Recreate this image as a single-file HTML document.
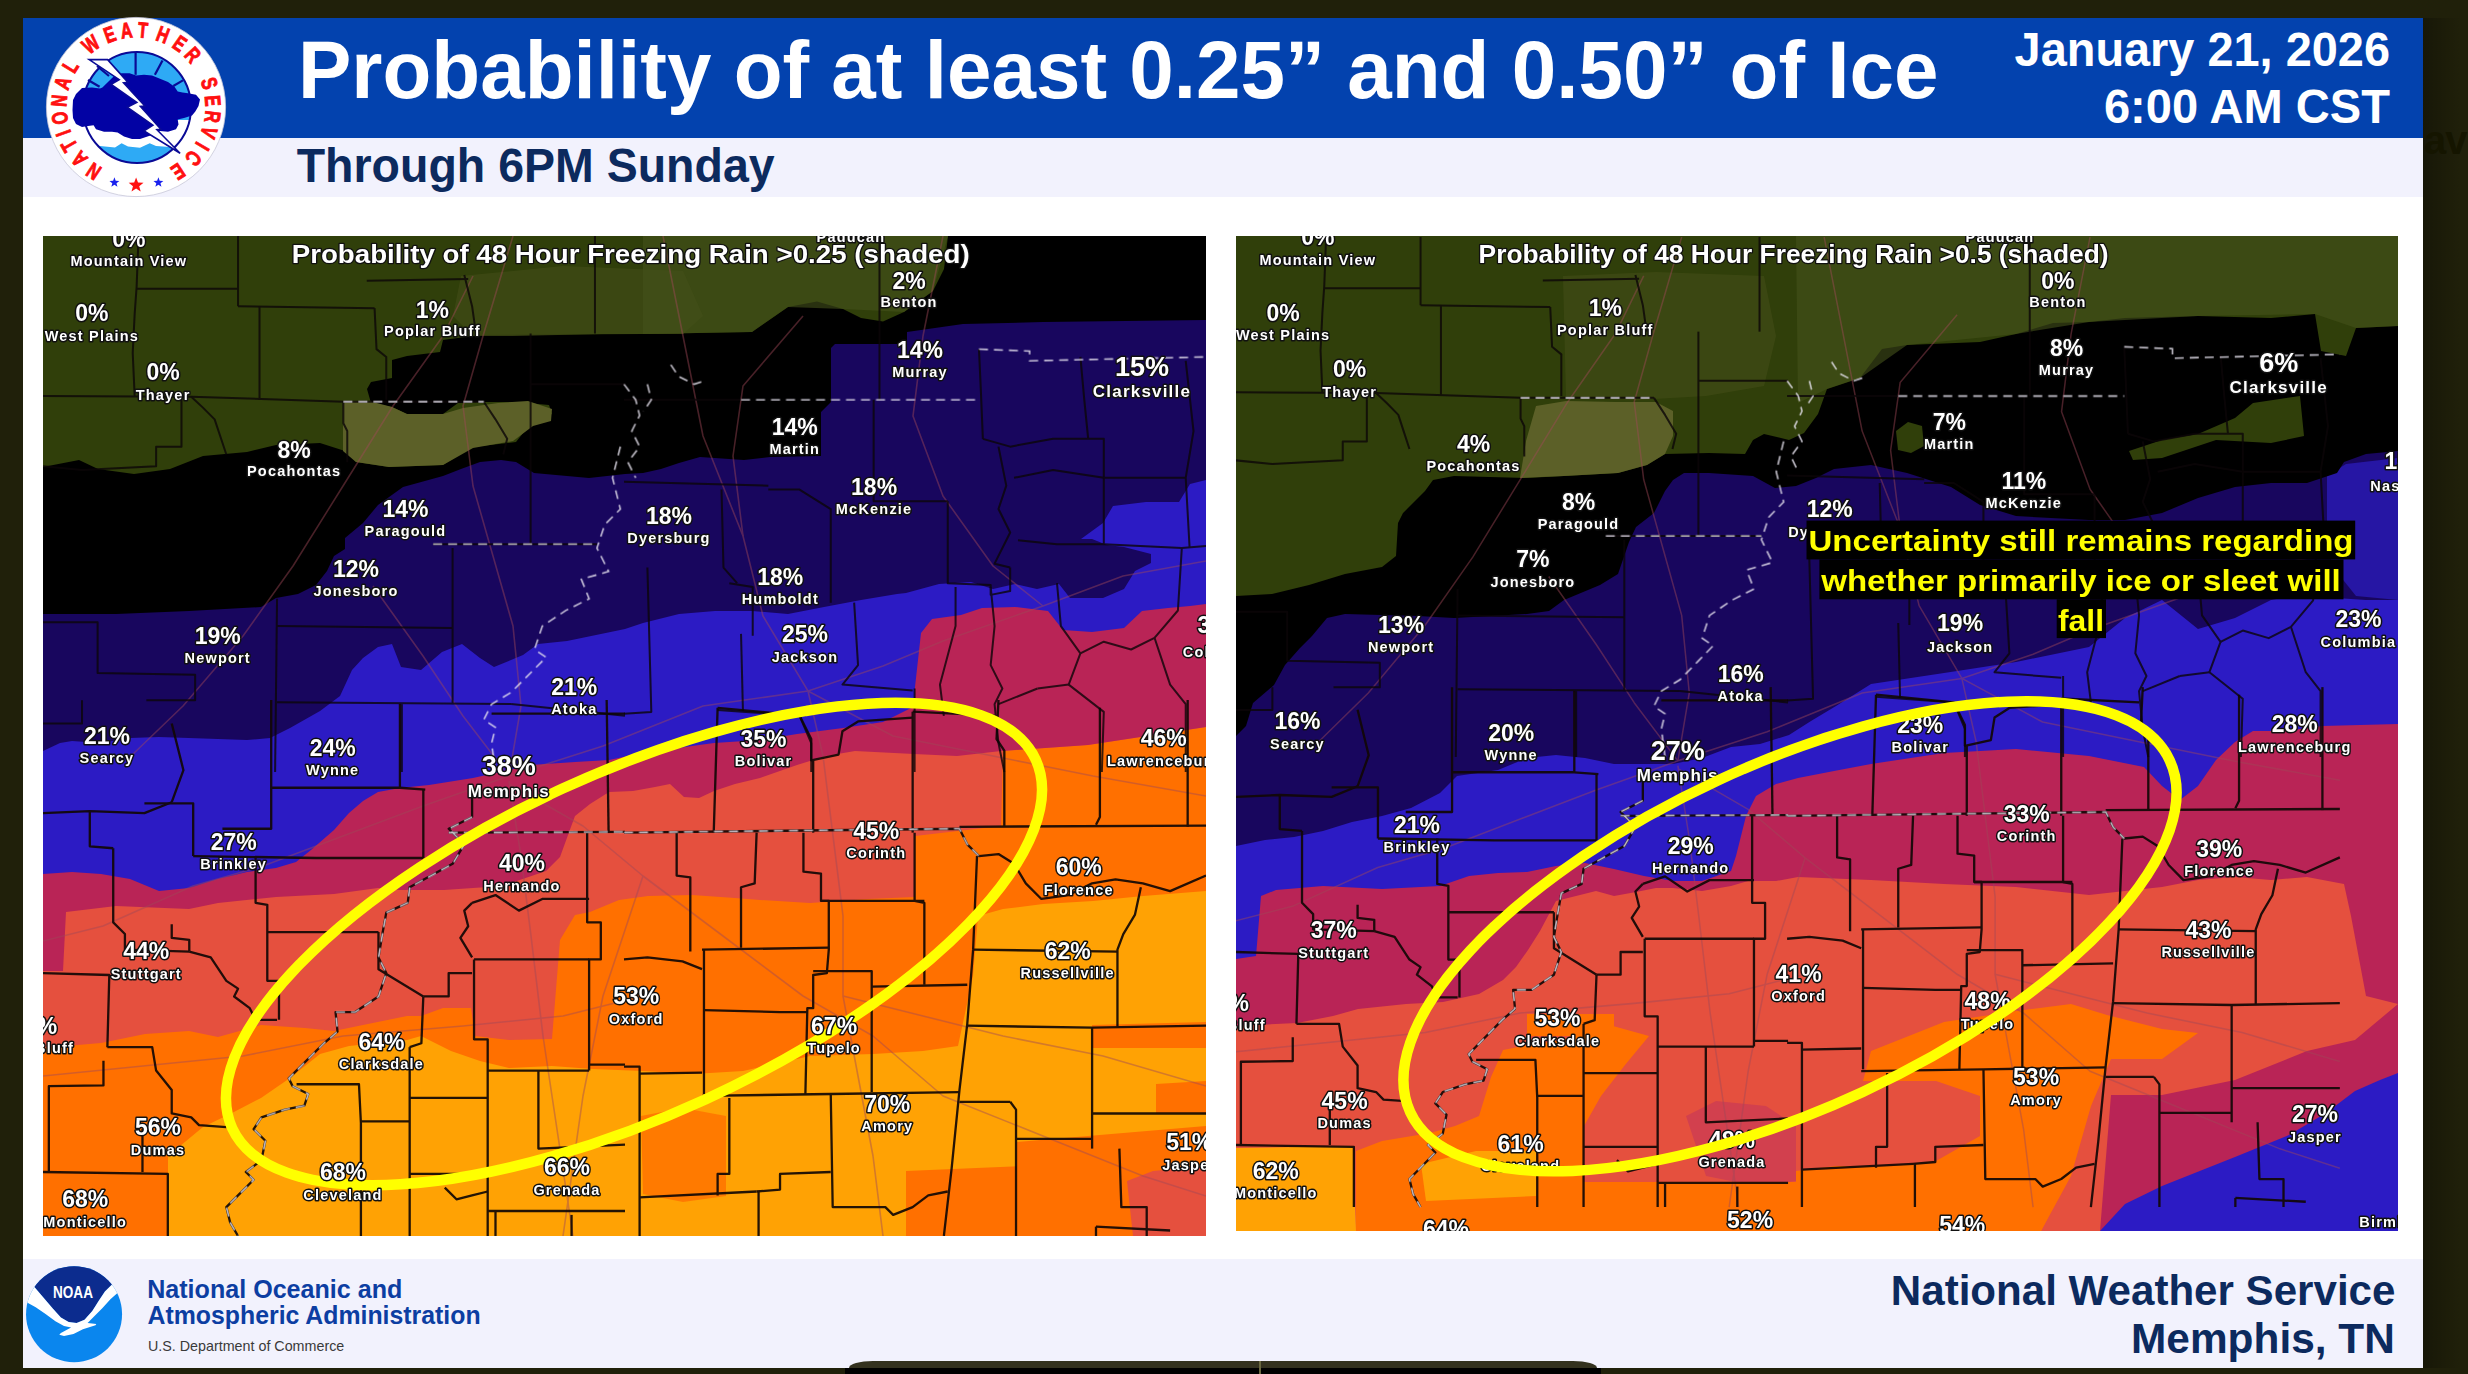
<!DOCTYPE html>
<html><head><meta charset="utf-8"><title>Probability of Ice</title>
<style>
html,body{margin:0;padding:0;width:2468px;height:1374px;overflow:hidden;background:#20200a;font-family:"Liberation Sans",sans-serif;}
.abs{position:absolute;}
#slide{position:absolute;left:23px;top:18px;width:2400px;height:1350px;background:#fff;overflow:hidden;}
#bluebar{position:absolute;left:0;top:0;width:2400px;height:120px;background:#0342ae;}
#grayband{position:absolute;left:0;top:120px;width:2400px;height:59px;background:#f2f2fd;}
#footband{position:absolute;left:0;top:1241px;width:2400px;height:109px;background:#f2f2fd;}
.t{position:absolute;white-space:nowrap;line-height:1;}
#title{left:275px;top:13.2px;font-size:80px;font-weight:bold;color:#fff;transform:scaleY(1.03);transform-origin:0 67.8px;}
#date1{right:33px;top:8.5px;font-size:46.9px;font-weight:bold;color:#fff;text-align:right;transform:scaleY(1.036);transform-origin:100% 39.8px;}
#date2{right:33px;top:64.7px;font-size:47.1px;font-weight:bold;color:#fff;text-align:right;transform:scaleY(1.03);transform-origin:100% 39.9px;}
#sub{left:273.7px;top:124.7px;font-size:46.5px;font-weight:bold;color:#0c2a5e;transform:scaleY(1.025);transform-origin:0 39.4px;}
#noaa1{left:124.2px;top:1259px;font-size:25.1px;font-weight:bold;color:#0c3ea2;}
#noaa2{left:124.5px;top:1286.3px;font-size:24.85px;font-weight:bold;color:#0c3ea2;}
#noaa3{left:125px;top:1320.8px;font-size:14.3px;color:#3a3a3a;}
#nws1{right:27.6px;top:1252.2px;font-size:42.1px;font-weight:bold;color:#0c2a5e;}
#nws2{right:28.2px;top:1299.9px;font-size:42.4px;font-weight:bold;color:#0c2a5e;}
svg{display:block;}
.lp,.ln,.tt{font-family:"Liberation Sans",sans-serif;font-weight:bold;fill:#fff;stroke:#111;stroke-width:3px;paint-order:stroke;stroke-linejoin:round;}
.lp,.ln{text-anchor:middle;}
.ln{letter-spacing:1.2px;}
.tt{stroke-width:2.5px;}
.ut{font-family:"Liberation Sans",sans-serif;font-weight:bold;font-size:29.5px;fill:#ffff00;text-anchor:middle;}

</style></head><body>
<div id="slide">
  <div id="bluebar"></div>
  <div id="grayband"></div>
  <div id="footband"></div>
  <div class="t" id="title">Probability of at least 0.25” and 0.50” of Ice</div>
  <div class="t" id="date1">January 21, 2026</div>
  <div class="t" id="date2">6:00 AM CST</div>
  <div class="t" id="sub">Through 6PM Sunday</div>
  <div class="t" id="noaa1">National Oceanic and</div>
  <div class="t" id="noaa2">Atmospheric Administration</div>
  <div class="t" id="noaa3">U.S. Department of Commerce</div>
  <div class="t" id="nws1">National Weather Service</div>
  <div class="t" id="nws2">Memphis, TN</div>
</div>
<!--MAPL-->
<svg class="abs" style="left:43px;top:236px" width="1163" height="1000" viewBox="0 0 1163 1000">
<rect width="1163" height="1000" fill="#ffa204"/>
<polygon fill="#ff7000" points="0,0 1163,0 1163,655 1100,660 1050,665 1000,668 960,673 935,680 930,740 915,810 880,815 830,818 767,820 700,835 650,838 600,835 550,833 509,830 466,832 437,825 408,815 378,800 364,804 306,810 277,818 247,842 218,862 189,877 160,891 125,920 125,1000 0,1000"/>
<polygon fill="#ff7000" points="974,906 1163,890 1163,1000 974,1000"/>
<polygon fill="#ff7000" points="863,935 980,930 980,1000 863,1000"/>
<polygon fill="#ff7000" points="1049,789 1163,786 1163,812 1049,812"/>
<polygon fill="#ff7000" points="1113,848 1163,845 1163,877 1113,877"/>
<polygon fill="#e5503e" points="1084,945 1110,935 1163,930 1163,1000 1090,1000"/>
<polygon fill="#e5503e" points="0,0 1163,0 1163,491 1104,500 1045,509 1002,512 960,515 958,590 872,600 872,661 825,663 767,667 717,664 692,662 649,659 605,660 576,664 547,676 532,679 517,704 509,803 466,804 432,800 428,772 400,772 378,780 364,780 320,789 291,795 262,792 218,789 175,801 146,795 102,798 58,807 0,812"/>
<polygon fill="#ff7000" opacity="0.8" points="598,880 640,872 683,880 683,960 640,966 600,958"/>
<polygon fill="#b92456" points="0,0 1163,0 1163,491 1104,500 1045,509 1002,512 958,515 914,520 871,518 812,515 783,520 754,529 717,542 692,548 671,555 656,562 641,561 627,548 612,551 590,555 566,556 547,568 532,580 525,599 517,621 503,635 459,650 401,654 357,654 335,652 291,658 233,661 175,667 146,673 73,670 23,676 20,735 0,735"/>
<polygon fill="#2c1bc4" points="0,0 1163,0 1163,368 1147,370 1125,372 1099,375 1081,392 1049,396 1020,394 1005,375 972,371 939,372 918,379 889,383 878,397 872,451 872,470 840,486 800,492 754,498 717,504 671,507 649,510 590,519 566,524 532,526 488,529 430,542 386,549 357,552 335,556 320,565 306,577 291,594 268,614 253,626 233,632 204,636 175,643 146,652 116,655 87,643 58,638 29,636 0,638"/>
<polygon fill="#18065e" points="0,0 1163,0 1163,244 1147,248 1136,266 1103,266 1070,270 1060,287 1038,303 1049,303 1064,309 1081,311 1108,318 1108,327 1092,335 1081,353 1060,362 1027,362 1016,348 994,353 972,348 950,353 928,346 896,348 863,357 854,358 818,364 781,371 745,378 709,375 672,375 636,378 600,387 582,393 553,399 524,405 495,408 480,419 451,431 437,422 419,408 399,416 378,434 358,431 349,408 335,411 320,422 309,434 297,460 277,475 247,492 227,502 204,504 146,502 116,501 87,502 58,507 29,505 17,507 0,515"/>
<polygon fill="#000000" points="0,0 1163,0 1163,84 1000,86 920,88 864,96 864,108 792,108 788,112 788,166 778,176 778,220 727,221 701,224 657,221 636,227 618,233 600,237 582,238 546,242 491,237 473,226 458,224 437,226 418,233 400,240 360,251 335,269 320,287 302,302 302,313 291,320 284,335 273,349 255,358 233,362 218,371 146,375 73,378 0,378"/>
<polygon fill="#303f0a" points="0,0 0,231 36,224 55,233 91,238 127,233 160,220 204,216 233,209 277,207 302,215 313,226 346,231 400,229 429,211 473,206 488,187 509,178 506,169 473,166 437,166 415,167 400,178 364,178 349,171 328,167 324,153 328,146 349,142 349,124 364,120 397,116 400,104 437,99 600,98 709,96 716,91 745,71 774,65.5 800,73 818,82 840,85.5 861,76 890,55 901,33 905,0"/>
<polygon fill="#5c6028" points="300,165 326,165 349,171 364,178 400,178 420,172 455,167 485,165 509,173 508,185 490,190 470,205 430,212 400,229 346,231 313,226 300,215"/>
<polygon fill="#3e4a14" opacity="0.8" points="418,40 520,30 640,35 660,80 640,98 560,98 470,100 430,100 410,80"/>
<polygon fill="#44521a" opacity="0.6" points="600,0 905,0 890,55 861,76 800,73 745,71 709,96 600,98"/>
<g fill="none" stroke="#a04858" stroke-width="1.6" opacity="0.45" stroke-linejoin="round"><polyline points="466,540 560,510 660,470 765,455 840,430 900,405 1000,370 1080,340 1163,325"/><polyline points="466,540 478,470 470,390 450,320 430,250 420,170 440,100 470,0"/><polyline points="466,540 380,570 300,600 220,630 150,650 60,690 0,705"/><polyline points="466,545 478,620 488,700 500,800 515,900 530,1000"/><polyline points="466,548 540,590 600,640 680,700 760,760 830,800 900,860 1000,900 1100,940 1163,960"/><polyline points="765,455 780,520 790,600 800,680 800,760 815,840 830,920 840,1000"/><polyline points="88,520 140,470 200,400 250,330 300,250 350,170 400,100 430,40"/><polyline points="330,350 380,420 420,480 466,540"/><polyline points="765,455 720,380 700,300 690,220 700,150 760,80"/><polyline points="765,455 850,500 950,520 1050,540 1163,560"/><polyline points="600,640 560,760 540,860 520,1000"/><polyline points="800,760 880,780 960,800 1060,820 1163,850"/><polyline points="0,840 100,830 200,820 300,800 420,790 520,780 600,760"/><polyline points="620,0 640,100 660,200 700,300"/><polyline points="900,0 880,100 870,180 900,260 950,330 1000,370"/></g>
<g fill="none" stroke="#120806" stroke-width="2.3" stroke-linejoin="round" opacity="0.92">
<g transform="translate(0,464) scale(0.39008)"><polyline vector-effect="non-scaling-stroke" points="0,290 120,285 260,290 330,262"/><polyline vector-effect="non-scaling-stroke" points="330,60 360,180 330,262"/><polyline vector-effect="non-scaling-stroke" points="260,265 385,265 385,400"/><polyline vector-effect="non-scaling-stroke" points="385,400 700,405 975,405"/><polyline vector-effect="non-scaling-stroke" points="585,0 585,330 460,330"/><polyline vector-effect="non-scaling-stroke" points="915,10 915,225"/><polyline vector-effect="non-scaling-stroke" points="585,225 915,225 980,230"/><polyline vector-effect="non-scaling-stroke" points="975,230 975,405"/><polyline vector-effect="non-scaling-stroke" points="545,400 545,520 575,525 575,720 605,720 605,820"/><polyline vector-effect="non-scaling-stroke" points="575,595 860,595"/><polyline vector-effect="non-scaling-stroke" points="860,595 860,690 975,760"/><polyline vector-effect="non-scaling-stroke" points="1100,250 1100,300 1040,330 1080,370 1050,420 940,480 935,520 880,545 870,600 860,660 880,700 860,760 800,800 750,800 755,850 720,880 660,940 630,970 640,990 680,1010 670,1040 620,1050 560,1070 540,1100 570,1130 560,1180 520,1210 540,1230 500,1270 470,1300 480,1340 500,1374"/><polyline vector-effect="non-scaling-stroke" points="0,700 170,705 165,890"/><polyline vector-effect="non-scaling-stroke" points="180,380 180,570 210,600 210,640 375,645"/><polyline vector-effect="non-scaling-stroke" points="330,575 330,610 375,615 375,645"/><polyline vector-effect="non-scaling-stroke" points="375,645 430,660 470,720 500,740 490,760 530,790 545,820 600,820"/><polyline vector-effect="non-scaling-stroke" points="165,890 280,890 290,950 330,1000 330,1060 380,1070 400,1090 470,1095"/><polyline vector-effect="non-scaling-stroke" points="155,925 155,988 15,990 15,1210"/><polyline vector-effect="non-scaling-stroke" points="0,1210 320,1215 320,1374"/><polyline vector-effect="non-scaling-stroke" points="255,1100 255,1210"/><polyline vector-effect="non-scaling-stroke" points="650,985 810,985 815,1085 815,1374"/><polyline vector-effect="non-scaling-stroke" points="815,1080 940,1080"/><polyline vector-effect="non-scaling-stroke" points="940,890 940,1374"/><polyline vector-effect="non-scaling-stroke" points="940,1020 1140,1020"/><polyline vector-effect="non-scaling-stroke" points="1105,665 1105,870 1140,870 1140,1374"/><polyline vector-effect="non-scaling-stroke" points="1105,665 1400,665"/><polyline vector-effect="non-scaling-stroke" points="975,760 970,880 940,890"/><polyline vector-effect="non-scaling-stroke" points="975,760 1040,760 1040,700 1100,700"/><polyline vector-effect="non-scaling-stroke" points="1100,520 1080,540 1090,580 1070,610 1100,660"/><polyline vector-effect="non-scaling-stroke" points="1100,520 1160,500 1220,540 1280,510 1400,510"/><polyline vector-effect="non-scaling-stroke" points="1040,340 1492,338"/><polyline vector-effect="non-scaling-stroke" points="1395,340 1395,570 1430,570 1430,665 1400,665 1400,950"/><polyline vector-effect="non-scaling-stroke" points="1140,950 1400,950"/><polyline vector-effect="non-scaling-stroke" points="1270,950 1270,1150 1492,1140"/><polyline vector-effect="non-scaling-stroke" points="1445,0 1450,340"/><polyline vector-effect="non-scaling-stroke" points="1400,935 1492,935"/><polyline vector-effect="non-scaling-stroke" points="1140,1310 1492,1310"/><polyline vector-effect="non-scaling-stroke" points="1160,1310 1160,1374"/><polyline vector-effect="non-scaling-stroke" points="1355,1320 1355,1374"/><polyline vector-effect="non-scaling-stroke" points="940,1215 1140,1215"/><polyline vector-effect="non-scaling-stroke" points="1030,1250 1060,1280 1100,1270 1140,1260"/><polyline vector-effect="non-scaling-stroke" points="1150,35 1492,35"/><polyline vector-effect="non-scaling-stroke" points="120,285 120,375 180,380"/></g>
<g transform="translate(581,464) scale(0.39008)"><polyline vector-effect="non-scaling-stroke" points="0,340 860,330 880,370 910,400 960,395 1000,420 1030,470 1070,510 1140,500 1200,470 1260,460 1330,470 1400,490 1492,450"/><polyline vector-effect="non-scaling-stroke" points="860,325 1492,322"/><polyline vector-effect="non-scaling-stroke" points="240,20 230,340"/><polyline vector-effect="non-scaling-stroke" points="240,20 450,40 480,100 480,155 550,140 560,80 600,55 740,45"/><polyline vector-effect="non-scaling-stroke" points="740,30 950,40"/><polyline vector-effect="non-scaling-stroke" points="485,155 485,340"/><polyline vector-effect="non-scaling-stroke" points="740,30 740,340"/><polyline vector-effect="non-scaling-stroke" points="960,0 955,100 975,130 975,325"/><polyline vector-effect="non-scaling-stroke" points="1220,20 1220,300 1210,320"/><polyline vector-effect="non-scaling-stroke" points="1445,0 1445,325"/><polyline vector-effect="non-scaling-stroke" points="135,340 135,450 170,455 170,645"/><polyline vector-effect="non-scaling-stroke" points="340,340 335,470 300,480 300,635"/><polyline vector-effect="non-scaling-stroke" points="460,340 460,440 505,445 505,515 525,515 525,640 520,700 485,705 485,790 470,790 465,1010"/><polyline vector-effect="non-scaling-stroke" points="745,340 745,515 770,520 770,730"/><polyline vector-effect="non-scaling-stroke" points="505,515 770,515"/><polyline vector-effect="non-scaling-stroke" points="200,640 525,635"/><polyline vector-effect="non-scaling-stroke" points="205,640 205,1010"/><polyline vector-effect="non-scaling-stroke" points="0,665 60,660 150,670 200,690"/><polyline vector-effect="non-scaling-stroke" points="205,795 400,800 470,800"/><polyline vector-effect="non-scaling-stroke" points="485,695 635,695 635,1005"/><polyline vector-effect="non-scaling-stroke" points="635,735 880,730"/><polyline vector-effect="non-scaling-stroke" points="905,400 895,640 880,830 860,1000 840,1200 820,1374"/><polyline vector-effect="non-scaling-stroke" points="895,640 1265,645"/><polyline vector-effect="non-scaling-stroke" points="1325,480 1310,550 1280,600 1265,640 1265,840"/><polyline vector-effect="non-scaling-stroke" points="880,835 1200,840 1492,835"/><polyline vector-effect="non-scaling-stroke" points="1200,840 1200,1150"/><polyline vector-effect="non-scaling-stroke" points="1200,1060 1492,1060"/><polyline vector-effect="non-scaling-stroke" points="990,1030 1005,1050 1005,1374"/><polyline vector-effect="non-scaling-stroke" points="860,1030 990,1030"/><polyline vector-effect="non-scaling-stroke" points="1005,1125 1200,1125"/><polyline vector-effect="non-scaling-stroke" points="1270,1150 1275,1300 1340,1300 1340,1374"/><polyline vector-effect="non-scaling-stroke" points="200,1015 530,1010 860,1005"/><polyline vector-effect="non-scaling-stroke" points="530,1010 535,1300 670,1300 690,1320 740,1300 780,1270 830,1260"/><polyline vector-effect="non-scaling-stroke" points="270,1020 270,1215 240,1215 240,1270"/><polyline vector-effect="non-scaling-stroke" points="40,1275 340,1260"/><polyline vector-effect="non-scaling-stroke" points="0,940 40,940 40,1374"/><polyline vector-effect="non-scaling-stroke" points="40,958 200,955"/><polyline vector-effect="non-scaling-stroke" points="340,1260 400,1255 400,1215 530,1210"/><polyline vector-effect="non-scaling-stroke" points="345,1260 345,1374"/><polyline vector-effect="non-scaling-stroke" points="1210,1350 1400,1360"/><polyline vector-effect="non-scaling-stroke" points="1210,1350 1210,1374"/></g>
</g><g fill="none" stroke="#0c0608" stroke-width="2" stroke-linejoin="round" opacity="0.8">
<g transform="translate(0,0) scale(0.39008)"><polyline vector-effect="non-scaling-stroke" points="245,0 240,130 235,200 230,300 235,410"/><polyline vector-effect="non-scaling-stroke" points="240,135 500,135"/><polyline vector-effect="non-scaling-stroke" points="500,0 500,180"/><polyline vector-effect="non-scaling-stroke" points="500,180 850,185"/><polyline vector-effect="non-scaling-stroke" points="555,180 555,420"/><polyline vector-effect="non-scaling-stroke" points="850,185 855,290 880,310 880,420"/><polyline vector-effect="non-scaling-stroke" points="0,410 380,412 770,425 1130,425"/><polyline vector-effect="non-scaling-stroke" points="1080,100 1100,180 1110,250"/><polyline vector-effect="non-scaling-stroke" points="830,115 1090,110"/><polyline vector-effect="non-scaling-stroke" points="1415,0 1415,250"/><polyline vector-effect="non-scaling-stroke" points="0,590 100,600 290,590 290,540 355,540 355,420"/><polyline vector-effect="non-scaling-stroke" points="380,412 410,440 440,470 460,530 470,560"/><polyline vector-effect="non-scaling-stroke" points="770,425 770,480 780,500 780,580"/><polyline vector-effect="non-scaling-stroke" points="1130,425 1160,470 1190,520 1180,560"/><polyline vector-effect="non-scaling-stroke" points="0,990 140,990 140,1120 390,1125 390,1190 265,1190"/><polyline vector-effect="non-scaling-stroke" points="600,930 595,1374"/><polyline vector-effect="non-scaling-stroke" points="600,1000 1050,1005"/><polyline vector-effect="non-scaling-stroke" points="1050,800 1050,1200"/><polyline vector-effect="non-scaling-stroke" points="600,1195 1200,1200"/><polyline vector-effect="non-scaling-stroke" points="920,1200 920,1374"/><polyline vector-effect="non-scaling-stroke" points="1250,250 1250,790"/><polyline vector-effect="non-scaling-stroke" points="1250,380 1492,380"/><polyline vector-effect="non-scaling-stroke" points="1200,1200 1492,1230"/><polyline vector-effect="non-scaling-stroke" points="100,1190 100,1250 0,1250"/><polyline vector-effect="non-scaling-stroke" points="1000,790 1420,790"/></g>
<g transform="translate(581,0) scale(0.39008)"><polyline vector-effect="non-scaling-stroke" points="655,0 655,420"/><polyline vector-effect="non-scaling-stroke" points="640,420 640,680 830,680"/><polyline vector-effect="non-scaling-stroke" points="830,680 830,890 940,895 940,920 990,910 990,850"/><polyline vector-effect="non-scaling-stroke" points="370,650 450,650 530,700 530,940"/><polyline vector-effect="non-scaling-stroke" points="0,630 370,640"/><polyline vector-effect="non-scaling-stroke" points="250,650 255,850 290,890"/><polyline vector-effect="non-scaling-stroke" points="270,890 330,900 330,1025"/><polyline vector-effect="non-scaling-stroke" points="590,940 600,1100 560,1150 680,1160 740,1165"/><polyline vector-effect="non-scaling-stroke" points="300,1020 305,1220"/><polyline vector-effect="non-scaling-stroke" points="60,850 70,1220 0,1225"/><polyline vector-effect="non-scaling-stroke" points="240,1215 450,1230 480,1300 480,1374"/><polyline vector-effect="non-scaling-stroke" points="745,1160 745,1374"/><polyline vector-effect="non-scaling-stroke" points="850,900 850,1000 810,1150 820,1230"/><polyline vector-effect="non-scaling-stroke" points="940,900 950,1000 940,1100 970,1160 950,1200 960,1300 975,1374"/><polyline vector-effect="non-scaling-stroke" points="1110,890 1120,1000 1170,1070 1140,1150 1230,1220 1225,1374"/><polyline vector-effect="non-scaling-stroke" points="1170,1070 1230,1040 1300,1060 1360,1030 1420,960 1430,800"/><polyline vector-effect="non-scaling-stroke" points="1360,1030 1380,1090 1400,1150 1440,1200 1440,1374"/><polyline vector-effect="non-scaling-stroke" points="1060,1160 1140,1150"/><polyline vector-effect="non-scaling-stroke" points="960,1200 1060,1160"/><polyline vector-effect="non-scaling-stroke" points="1230,790 1430,800 1492,795"/><polyline vector-effect="non-scaling-stroke" points="1170,310 1180,420 1190,520"/><polyline vector-effect="non-scaling-stroke" points="920,520 990,540 1100,520 1190,520 1230,520 1230,790"/><polyline vector-effect="non-scaling-stroke" points="960,540 980,640 960,700 990,760 950,840 990,850"/><polyline vector-effect="non-scaling-stroke" points="1000,620 1100,600 1230,620"/><polyline vector-effect="non-scaling-stroke" points="1010,780 1110,790 1230,790"/><polyline vector-effect="non-scaling-stroke" points="1440,320 1460,500 1440,620 1450,800"/><polyline vector-effect="non-scaling-stroke" points="1230,620 1440,620"/><polyline vector-effect="non-scaling-stroke" points="910,290 915,400 920,520"/><polyline vector-effect="non-scaling-stroke" points="0,420 300,420"/></g>
</g>
<g fill="none" stroke="#e8e4f0" stroke-width="1.6" stroke-dasharray="9 6" opacity="0.85">
<g transform="translate(0,0) scale(0.39008)"><polyline vector-effect="non-scaling-stroke" points="770,425 1130,425"/><polyline vector-effect="non-scaling-stroke" points="1000,790 1420,790"/><polyline vector-effect="non-scaling-stroke" points="1480,540 1460,620 1480,700 1440,740 1420,800 1450,860 1380,880 1400,930 1340,960 1280,1000 1260,1060 1290,1080 1250,1120 1200,1170 1150,1200 1130,1240 1160,1260 1150,1300 1160,1374"/></g>
<g transform="translate(581,0) scale(0.39008)"><polyline vector-effect="non-scaling-stroke" points="300,420 910,420"/><polyline vector-effect="non-scaling-stroke" points="910,290 1040,295 1040,320 1492,310"/><polyline vector-effect="non-scaling-stroke" points="0,380 30,420 40,460 20,500 40,540 10,580 30,620"/><polyline vector-effect="non-scaling-stroke" points="120,330 140,360 180,380 210,370"/><polyline vector-effect="non-scaling-stroke" points="60,380 70,420 50,450"/></g>
<g transform="translate(0,464) scale(0.39008)"><polyline vector-effect="non-scaling-stroke" points="1040,340 1492,338"/><polyline vector-effect="non-scaling-stroke" points="1100,300 1040,330 1080,370 1050,420 940,480 935,520 880,545 870,600 860,660 880,700 860,760 800,800 750,800 755,850 720,880 660,940 630,970 640,990 680,1010 670,1040 620,1050 560,1070 540,1100 570,1130 560,1180 520,1210 540,1230 500,1270 470,1300 480,1340 500,1374"/></g>
<g transform="translate(581,464) scale(0.39008)"><polyline vector-effect="non-scaling-stroke" points="0,340 860,330 880,370 910,400"/></g>
</g>
<ellipse cx="591" cy="708" rx="442" ry="171" transform="rotate(-24.65 591 708)" fill="none" stroke="#ffff00" stroke-width="10.5"/>
<g><text x="85.9" y="10.9" font-size="23" class="lp">0%</text><text x="85.9" y="29.8" font-size="14.5" class="ln">Mountain View</text><text x="48.8" y="85.2" font-size="23" class="lp">0%</text><text x="48.8" y="104.8" font-size="14.5" class="ln">West Plains</text><text x="120.1" y="144.1" font-size="23" class="lp">0%</text><text x="120.1" y="163.8" font-size="14.5" class="ln">Thayer</text><text x="251.1" y="222.0" font-size="23" class="lp">8%</text><text x="251.1" y="240.2" font-size="14.5" class="ln">Pocahontas</text><text x="389.4" y="81.5" font-size="23" class="lp">1%</text><text x="389.4" y="100.4" font-size="14.5" class="ln">Poplar Bluff</text><text x="866.1" y="53.1" font-size="23" class="lp">2%</text><text x="866.1" y="71.3" font-size="14.5" class="ln">Benton</text><text x="877.0" y="122.3" font-size="23" class="lp">14%</text><text x="877.0" y="141.2" font-size="14.5" class="ln">Murray</text><text x="1099.0" y="139.7" font-size="27" class="lp">15%</text><text x="1099.0" y="160.8" font-size="17" class="ln">Clarksville</text><text x="751.8" y="199.4" font-size="23" class="lp">14%</text><text x="751.8" y="218.3" font-size="14.5" class="ln">Martin</text><text x="831.1" y="259.1" font-size="23" class="lp">18%</text><text x="831.1" y="278.0" font-size="14.5" class="ln">McKenzie</text><text x="625.9" y="288.2" font-size="23" class="lp">18%</text><text x="625.9" y="307.1" font-size="14.5" class="ln">Dyersburg</text><text x="362.4" y="280.9" font-size="23" class="lp">14%</text><text x="362.4" y="299.9" font-size="14.5" class="ln">Paragould</text><text x="313.0" y="340.6" font-size="23" class="lp">12%</text><text x="313.0" y="360.3" font-size="14.5" class="ln">Jonesboro</text><text x="737.3" y="349.3" font-size="23" class="lp">18%</text><text x="737.3" y="368.3" font-size="14.5" class="ln">Humboldt</text><text x="762.0" y="406.1" font-size="23" class="lp">25%</text><text x="762.0" y="425.8" font-size="14.5" class="ln">Jackson</text><text x="174.7" y="408.3" font-size="23" class="lp">19%</text><text x="174.7" y="427.2" font-size="14.5" class="ln">Newport</text><text x="531.3" y="459.2" font-size="23" class="lp">21%</text><text x="531.3" y="478.2" font-size="14.5" class="ln">Atoka</text><text x="64.0" y="508.0" font-size="23" class="lp">21%</text><text x="64.0" y="526.9" font-size="14.5" class="ln">Searcy</text><text x="289.7" y="519.7" font-size="23" class="lp">24%</text><text x="289.7" y="538.6" font-size="14.5" class="ln">Wynne</text><text x="465.8" y="538.6" font-size="27" class="lp">38%</text><text x="465.8" y="561.1" font-size="17" class="ln">Memphis</text><text x="720.5" y="510.9" font-size="23" class="lp">35%</text><text x="720.5" y="529.8" font-size="14.5" class="ln">Bolivar</text><text x="1120.8" y="510.2" font-size="23" class="lp">46%</text><text x="1120.8" y="529.8" font-size="14.5" class="ln">Lawrenceburg</text><text x="1177.6" y="397.4" font-size="23" class="lp">36%</text><text x="1177.6" y="420.7" font-size="14.5" class="ln">Columbia</text><text x="190.7" y="614.3" font-size="23" class="lp">27%</text><text x="190.7" y="633.2" font-size="14.5" class="ln">Brinkley</text><text x="478.9" y="635.4" font-size="23" class="lp">40%</text><text x="478.9" y="655.0" font-size="14.5" class="ln">Hernando</text><text x="833.3" y="603.3" font-size="23" class="lp">45%</text><text x="833.3" y="622.3" font-size="14.5" class="ln">Corinth</text><text x="1035.7" y="639.0" font-size="23" class="lp">60%</text><text x="1035.7" y="658.7" font-size="14.5" class="ln">Florence</text><text x="103.3" y="723.4" font-size="23" class="lp">44%</text><text x="103.3" y="743.1" font-size="14.5" class="ln">Stuttgart</text><text x="1024.7" y="722.7" font-size="23" class="lp">62%</text><text x="1024.7" y="742.4" font-size="14.5" class="ln">Russellville</text><text x="593.2" y="767.8" font-size="23" class="lp">53%</text><text x="593.2" y="787.5" font-size="14.5" class="ln">Oxford</text><text x="791.1" y="797.7" font-size="23" class="lp">67%</text><text x="791.1" y="817.3" font-size="14.5" class="ln">Tupelo</text><text x="338.4" y="813.7" font-size="23" class="lp">64%</text><text x="338.4" y="833.3" font-size="14.5" class="ln">Clarksdale</text><text x="-8.7" y="798.4" font-size="23" class="lp">46%</text><text x="-8.7" y="817.3" font-size="14.5" class="ln">Pine Bluff</text><text x="115.0" y="898.8" font-size="23" class="lp">56%</text><text x="115.0" y="918.5" font-size="14.5" class="ln">Dumas</text><text x="844.3" y="875.5" font-size="23" class="lp">70%</text><text x="844.3" y="895.2" font-size="14.5" class="ln">Amory</text><text x="1146.3" y="914.1" font-size="23" class="lp">51%</text><text x="1146.3" y="933.8" font-size="14.5" class="ln">Jasper</text><text x="299.9" y="944.0" font-size="23" class="lp">68%</text><text x="299.9" y="963.6" font-size="14.5" class="ln">Cleveland</text><text x="524.0" y="938.9" font-size="23" class="lp">66%</text><text x="524.0" y="958.5" font-size="14.5" class="ln">Grenada</text><text x="42.2" y="970.9" font-size="23" class="lp">68%</text><text x="42.2" y="990.5" font-size="14.5" class="ln">Monticello</text></g>
<text x="248.7" y="26.7" font-size="25" class="tt" textLength="678" lengthAdjust="spacingAndGlyphs">Probability of 48 Hour Freezing Rain &gt;0.25 (shaded)</text>
<text x="808" y="6" font-size="14.5" class="ln">Paducah</text>
</svg>
<!--/MAPL-->
<!--MAPR-->
<svg class="abs" style="left:1236px;top:236px" width="1162" height="995" viewBox="0 0 1162 995">
<rect width="1162" height="995" fill="#e5503e"/>
<polygon fill="#ff7000" points="243,880 255,841 267,814 292,809 328,804 353,792 377,790 413,800 389,829 365,860 348,890 348,995 120,995 120,915 146,905 194,897 219,890"/>
<polygon fill="#ff7000" points="627,845 635,815 708,786 780,775 835,768 871,779 926,793 962,797 926,823 875,823 855,870 835,940 805,995 560,995 560,935 600,930 650,930 700,925 744,900 744,860 700,845"/>
<polygon fill="#ff7000" points="291,778 378,778 378,800 291,800"/>
<polygon fill="#ffa204" points="0,912 117,910 120,995 0,995"/>
<polygon fill="#d2404e" points="450,880 480,865 530,870 560,890 560,945 520,950 470,940"/>
<polygon fill="#ff7000" points="348,946 830,946 805,995 348,995"/>
<polygon fill="#ffa204" points="185,928 240,915 300,915 300,960 190,965"/>
<polygon fill="#b92456" points="864,995 875,859 926,859 999,844 1071,815 1119,804 1162,768 1162,995"/>
<polygon fill="#2c1bc4" points="864,995 889,968 926,950 999,921 1053,899 1090,877 1119,855 1144,844 1162,837 1162,995"/>
<polygon fill="#b92456" points="0,0 1162,0 1162,768 1130,760 1115,680 1108,648 1071,641 1035,644 999,641 962,644 926,651 889,655 853,659 780,651 708,648 635,644 562,641 540,645 512,645 495,650 466,655 437,652 420,652 400,656 378,660 360,655 340,660 320,665 304,695 292,714 280,731 267,744 243,758 207,766 170,768 122,773 97,780 61,787 0,790"/>
<polygon fill="#2c1bc4" points="0,0 1162,0 1162,488 1086,490 1050,495 1017,495 999,506 980,524 962,550 944,564 926,550 908,531 853,520 780,513 708,517 635,528 598,535 562,542 540,548 520,560 510,580 500,620 495,635 466,645 437,645 408,640 378,633 349,627 320,630 291,636 262,637 233,640 204,650 146,653 87,650 40,654 25,660 20,720 0,723"/>
<polygon fill="#18065e" points="0,0 1162,0 1162,364 1130,364 1100,362 1071,357 1035,364 999,382 962,393 926,364 889,382 853,411 780,426 708,437 635,448 600,470 575,485 553,499 524,508 495,511 466,522 437,528 408,528 378,528 349,522 320,519 291,522 262,534 221,540 204,557 175,572 146,580 116,586 87,595 58,601 29,604 0,610"/>
<polygon fill="#2616a4" points="1091,240 1110,228 1162,222 1162,364 1120,360 1096,330 1091,290"/>
<polygon fill="#000000" points="0,0 1162,0 1162,215 1130,218 1108,226 1101,237 1071,247 1035,247 999,251 962,262 926,277 889,284 853,284 780,280 744,269 715,251 671,237 635,229 598,233 580,242 560,250 539,252 517,240 473,237 448,237 437,244 429,255 418,277 400,291 393,306 382,338 364,349 328,364 313,375 291,378 255,380 218,382 182,380 109,378 91,382 76,400 64,412 49,429 38,449 17,467 10,490 0,500"/>
<polygon fill="#303f0a" points="0,0 0,360 36,358 73,349 109,338 146,331 160,320 162,287 167,277 189,255 197,244 218,240 291,242 328,240 382,237 411,229 429,218 473,217 509,218 517,204 528,198 553,204 568,197 582,178 591,153 624,142 646,113 671,109 744,106 780,98 817,87 853,86 889,82 962,80 1035,82 1079,78 1085,115 1110,120 1120,92 1162,90 1162,0"/>
<polygon fill="#303f0a" points="660,195 672,186 686,190 688,210 675,217 662,214"/>
<polygon fill="#303f0a" points="893,215 926,204 962,198 999,182 1017,167 1064,160 1068,200 1035,207 980,204 926,222 897,224"/>
<polygon fill="#5c6028" points="284,242 290,205 300,170 330,165 380,166 420,166 437,175 437,200 429,218 411,229 382,237 328,240"/>
<polygon fill="#3e4a14" opacity="0.8" points="327,40 420,36 528,40 540,100 528,150 470,160 400,164 330,160"/>
<polygon fill="#44521a" opacity="0.6" points="560,0 1162,0 1162,90 1120,92 1079,78 962,80 853,86 780,98 671,109 624,142 591,153 562,167"/>
<g transform="matrix(0.9497,0,0,0.970,-0.67,1.06)"><g fill="none" stroke="#a04858" stroke-width="1.6" opacity="0.45" stroke-linejoin="round"><polyline points="466,540 560,510 660,470 765,455 840,430 900,405 1000,370 1080,340 1163,325"/><polyline points="466,540 478,470 470,390 450,320 430,250 420,170 440,100 470,0"/><polyline points="466,540 380,570 300,600 220,630 150,650 60,690 0,705"/><polyline points="466,545 478,620 488,700 500,800 515,900 530,1000"/><polyline points="466,548 540,590 600,640 680,700 760,760 830,800 900,860 1000,900 1100,940 1163,960"/><polyline points="765,455 780,520 790,600 800,680 800,760 815,840 830,920 840,1000"/><polyline points="88,520 140,470 200,400 250,330 300,250 350,170 400,100 430,40"/><polyline points="330,350 380,420 420,480 466,540"/><polyline points="765,455 720,380 700,300 690,220 700,150 760,80"/><polyline points="765,455 850,500 950,520 1050,540 1163,560"/><polyline points="600,640 560,760 540,860 520,1000"/><polyline points="800,760 880,780 960,800 1060,820 1163,850"/><polyline points="0,840 100,830 200,820 300,800 420,790 520,780 600,760"/><polyline points="620,0 640,100 660,200 700,300"/><polyline points="900,0 880,100 870,180 900,260 950,330 1000,370"/></g><g fill="none" stroke="#120806" stroke-width="2.3" stroke-linejoin="round" opacity="0.92">
<g transform="translate(0,464) scale(0.39008)"><polyline vector-effect="non-scaling-stroke" points="0,290 120,285 260,290 330,262"/><polyline vector-effect="non-scaling-stroke" points="330,60 360,180 330,262"/><polyline vector-effect="non-scaling-stroke" points="260,265 385,265 385,400"/><polyline vector-effect="non-scaling-stroke" points="385,400 700,405 975,405"/><polyline vector-effect="non-scaling-stroke" points="585,0 585,330 460,330"/><polyline vector-effect="non-scaling-stroke" points="915,10 915,225"/><polyline vector-effect="non-scaling-stroke" points="585,225 915,225 980,230"/><polyline vector-effect="non-scaling-stroke" points="975,230 975,405"/><polyline vector-effect="non-scaling-stroke" points="545,400 545,520 575,525 575,720 605,720 605,820"/><polyline vector-effect="non-scaling-stroke" points="575,595 860,595"/><polyline vector-effect="non-scaling-stroke" points="860,595 860,690 975,760"/><polyline vector-effect="non-scaling-stroke" points="1100,250 1100,300 1040,330 1080,370 1050,420 940,480 935,520 880,545 870,600 860,660 880,700 860,760 800,800 750,800 755,850 720,880 660,940 630,970 640,990 680,1010 670,1040 620,1050 560,1070 540,1100 570,1130 560,1180 520,1210 540,1230 500,1270 470,1300 480,1340 500,1374"/><polyline vector-effect="non-scaling-stroke" points="0,700 170,705 165,890"/><polyline vector-effect="non-scaling-stroke" points="180,380 180,570 210,600 210,640 375,645"/><polyline vector-effect="non-scaling-stroke" points="330,575 330,610 375,615 375,645"/><polyline vector-effect="non-scaling-stroke" points="375,645 430,660 470,720 500,740 490,760 530,790 545,820 600,820"/><polyline vector-effect="non-scaling-stroke" points="165,890 280,890 290,950 330,1000 330,1060 380,1070 400,1090 470,1095"/><polyline vector-effect="non-scaling-stroke" points="155,925 155,988 15,990 15,1210"/><polyline vector-effect="non-scaling-stroke" points="0,1210 320,1215 320,1374"/><polyline vector-effect="non-scaling-stroke" points="255,1100 255,1210"/><polyline vector-effect="non-scaling-stroke" points="650,985 810,985 815,1085 815,1374"/><polyline vector-effect="non-scaling-stroke" points="815,1080 940,1080"/><polyline vector-effect="non-scaling-stroke" points="940,890 940,1374"/><polyline vector-effect="non-scaling-stroke" points="940,1020 1140,1020"/><polyline vector-effect="non-scaling-stroke" points="1105,665 1105,870 1140,870 1140,1374"/><polyline vector-effect="non-scaling-stroke" points="1105,665 1400,665"/><polyline vector-effect="non-scaling-stroke" points="975,760 970,880 940,890"/><polyline vector-effect="non-scaling-stroke" points="975,760 1040,760 1040,700 1100,700"/><polyline vector-effect="non-scaling-stroke" points="1100,520 1080,540 1090,580 1070,610 1100,660"/><polyline vector-effect="non-scaling-stroke" points="1100,520 1160,500 1220,540 1280,510 1400,510"/><polyline vector-effect="non-scaling-stroke" points="1040,340 1492,338"/><polyline vector-effect="non-scaling-stroke" points="1395,340 1395,570 1430,570 1430,665 1400,665 1400,950"/><polyline vector-effect="non-scaling-stroke" points="1140,950 1400,950"/><polyline vector-effect="non-scaling-stroke" points="1270,950 1270,1150 1492,1140"/><polyline vector-effect="non-scaling-stroke" points="1445,0 1450,340"/><polyline vector-effect="non-scaling-stroke" points="1400,935 1492,935"/><polyline vector-effect="non-scaling-stroke" points="1140,1310 1492,1310"/><polyline vector-effect="non-scaling-stroke" points="1160,1310 1160,1374"/><polyline vector-effect="non-scaling-stroke" points="1355,1320 1355,1374"/><polyline vector-effect="non-scaling-stroke" points="940,1215 1140,1215"/><polyline vector-effect="non-scaling-stroke" points="1030,1250 1060,1280 1100,1270 1140,1260"/><polyline vector-effect="non-scaling-stroke" points="1150,35 1492,35"/><polyline vector-effect="non-scaling-stroke" points="120,285 120,375 180,380"/></g>
<g transform="translate(581,464) scale(0.39008)"><polyline vector-effect="non-scaling-stroke" points="0,340 860,330 880,370 910,400 960,395 1000,420 1030,470 1070,510 1140,500 1200,470 1260,460 1330,470 1400,490 1492,450"/><polyline vector-effect="non-scaling-stroke" points="860,325 1492,322"/><polyline vector-effect="non-scaling-stroke" points="240,20 230,340"/><polyline vector-effect="non-scaling-stroke" points="240,20 450,40 480,100 480,155 550,140 560,80 600,55 740,45"/><polyline vector-effect="non-scaling-stroke" points="740,30 950,40"/><polyline vector-effect="non-scaling-stroke" points="485,155 485,340"/><polyline vector-effect="non-scaling-stroke" points="740,30 740,340"/><polyline vector-effect="non-scaling-stroke" points="960,0 955,100 975,130 975,325"/><polyline vector-effect="non-scaling-stroke" points="1220,20 1220,300 1210,320"/><polyline vector-effect="non-scaling-stroke" points="1445,0 1445,325"/><polyline vector-effect="non-scaling-stroke" points="135,340 135,450 170,455 170,645"/><polyline vector-effect="non-scaling-stroke" points="340,340 335,470 300,480 300,635"/><polyline vector-effect="non-scaling-stroke" points="460,340 460,440 505,445 505,515 525,515 525,640 520,700 485,705 485,790 470,790 465,1010"/><polyline vector-effect="non-scaling-stroke" points="745,340 745,515 770,520 770,730"/><polyline vector-effect="non-scaling-stroke" points="505,515 770,515"/><polyline vector-effect="non-scaling-stroke" points="200,640 525,635"/><polyline vector-effect="non-scaling-stroke" points="205,640 205,1010"/><polyline vector-effect="non-scaling-stroke" points="0,665 60,660 150,670 200,690"/><polyline vector-effect="non-scaling-stroke" points="205,795 400,800 470,800"/><polyline vector-effect="non-scaling-stroke" points="485,695 635,695 635,1005"/><polyline vector-effect="non-scaling-stroke" points="635,735 880,730"/><polyline vector-effect="non-scaling-stroke" points="905,400 895,640 880,830 860,1000 840,1200 820,1374"/><polyline vector-effect="non-scaling-stroke" points="895,640 1265,645"/><polyline vector-effect="non-scaling-stroke" points="1325,480 1310,550 1280,600 1265,640 1265,840"/><polyline vector-effect="non-scaling-stroke" points="880,835 1200,840 1492,835"/><polyline vector-effect="non-scaling-stroke" points="1200,840 1200,1150"/><polyline vector-effect="non-scaling-stroke" points="1200,1060 1492,1060"/><polyline vector-effect="non-scaling-stroke" points="990,1030 1005,1050 1005,1374"/><polyline vector-effect="non-scaling-stroke" points="860,1030 990,1030"/><polyline vector-effect="non-scaling-stroke" points="1005,1125 1200,1125"/><polyline vector-effect="non-scaling-stroke" points="1270,1150 1275,1300 1340,1300 1340,1374"/><polyline vector-effect="non-scaling-stroke" points="200,1015 530,1010 860,1005"/><polyline vector-effect="non-scaling-stroke" points="530,1010 535,1300 670,1300 690,1320 740,1300 780,1270 830,1260"/><polyline vector-effect="non-scaling-stroke" points="270,1020 270,1215 240,1215 240,1270"/><polyline vector-effect="non-scaling-stroke" points="40,1275 340,1260"/><polyline vector-effect="non-scaling-stroke" points="0,940 40,940 40,1374"/><polyline vector-effect="non-scaling-stroke" points="40,958 200,955"/><polyline vector-effect="non-scaling-stroke" points="340,1260 400,1255 400,1215 530,1210"/><polyline vector-effect="non-scaling-stroke" points="345,1260 345,1374"/><polyline vector-effect="non-scaling-stroke" points="1210,1350 1400,1360"/><polyline vector-effect="non-scaling-stroke" points="1210,1350 1210,1374"/></g>
</g><g fill="none" stroke="#0c0608" stroke-width="2" stroke-linejoin="round" opacity="0.8">
<g transform="translate(0,0) scale(0.39008)"><polyline vector-effect="non-scaling-stroke" points="245,0 240,130 235,200 230,300 235,410"/><polyline vector-effect="non-scaling-stroke" points="240,135 500,135"/><polyline vector-effect="non-scaling-stroke" points="500,0 500,180"/><polyline vector-effect="non-scaling-stroke" points="500,180 850,185"/><polyline vector-effect="non-scaling-stroke" points="555,180 555,420"/><polyline vector-effect="non-scaling-stroke" points="850,185 855,290 880,310 880,420"/><polyline vector-effect="non-scaling-stroke" points="0,410 380,412 770,425 1130,425"/><polyline vector-effect="non-scaling-stroke" points="1080,100 1100,180 1110,250"/><polyline vector-effect="non-scaling-stroke" points="830,115 1090,110"/><polyline vector-effect="non-scaling-stroke" points="1415,0 1415,250"/><polyline vector-effect="non-scaling-stroke" points="0,590 100,600 290,590 290,540 355,540 355,420"/><polyline vector-effect="non-scaling-stroke" points="380,412 410,440 440,470 460,530 470,560"/><polyline vector-effect="non-scaling-stroke" points="770,425 770,480 780,500 780,580"/><polyline vector-effect="non-scaling-stroke" points="1130,425 1160,470 1190,520 1180,560"/><polyline vector-effect="non-scaling-stroke" points="0,990 140,990 140,1120 390,1125 390,1190 265,1190"/><polyline vector-effect="non-scaling-stroke" points="600,930 595,1374"/><polyline vector-effect="non-scaling-stroke" points="600,1000 1050,1005"/><polyline vector-effect="non-scaling-stroke" points="1050,800 1050,1200"/><polyline vector-effect="non-scaling-stroke" points="600,1195 1200,1200"/><polyline vector-effect="non-scaling-stroke" points="920,1200 920,1374"/><polyline vector-effect="non-scaling-stroke" points="1250,250 1250,790"/><polyline vector-effect="non-scaling-stroke" points="1250,380 1492,380"/><polyline vector-effect="non-scaling-stroke" points="1200,1200 1492,1230"/><polyline vector-effect="non-scaling-stroke" points="100,1190 100,1250 0,1250"/><polyline vector-effect="non-scaling-stroke" points="1000,790 1420,790"/></g>
<g transform="translate(581,0) scale(0.39008)"><polyline vector-effect="non-scaling-stroke" points="655,0 655,420"/><polyline vector-effect="non-scaling-stroke" points="640,420 640,680 830,680"/><polyline vector-effect="non-scaling-stroke" points="830,680 830,890 940,895 940,920 990,910 990,850"/><polyline vector-effect="non-scaling-stroke" points="370,650 450,650 530,700 530,940"/><polyline vector-effect="non-scaling-stroke" points="0,630 370,640"/><polyline vector-effect="non-scaling-stroke" points="250,650 255,850 290,890"/><polyline vector-effect="non-scaling-stroke" points="270,890 330,900 330,1025"/><polyline vector-effect="non-scaling-stroke" points="590,940 600,1100 560,1150 680,1160 740,1165"/><polyline vector-effect="non-scaling-stroke" points="300,1020 305,1220"/><polyline vector-effect="non-scaling-stroke" points="60,850 70,1220 0,1225"/><polyline vector-effect="non-scaling-stroke" points="240,1215 450,1230 480,1300 480,1374"/><polyline vector-effect="non-scaling-stroke" points="745,1160 745,1374"/><polyline vector-effect="non-scaling-stroke" points="850,900 850,1000 810,1150 820,1230"/><polyline vector-effect="non-scaling-stroke" points="940,900 950,1000 940,1100 970,1160 950,1200 960,1300 975,1374"/><polyline vector-effect="non-scaling-stroke" points="1110,890 1120,1000 1170,1070 1140,1150 1230,1220 1225,1374"/><polyline vector-effect="non-scaling-stroke" points="1170,1070 1230,1040 1300,1060 1360,1030 1420,960 1430,800"/><polyline vector-effect="non-scaling-stroke" points="1360,1030 1380,1090 1400,1150 1440,1200 1440,1374"/><polyline vector-effect="non-scaling-stroke" points="1060,1160 1140,1150"/><polyline vector-effect="non-scaling-stroke" points="960,1200 1060,1160"/><polyline vector-effect="non-scaling-stroke" points="1230,790 1430,800 1492,795"/><polyline vector-effect="non-scaling-stroke" points="1170,310 1180,420 1190,520"/><polyline vector-effect="non-scaling-stroke" points="920,520 990,540 1100,520 1190,520 1230,520 1230,790"/><polyline vector-effect="non-scaling-stroke" points="960,540 980,640 960,700 990,760 950,840 990,850"/><polyline vector-effect="non-scaling-stroke" points="1000,620 1100,600 1230,620"/><polyline vector-effect="non-scaling-stroke" points="1010,780 1110,790 1230,790"/><polyline vector-effect="non-scaling-stroke" points="1440,320 1460,500 1440,620 1450,800"/><polyline vector-effect="non-scaling-stroke" points="1230,620 1440,620"/><polyline vector-effect="non-scaling-stroke" points="910,290 915,400 920,520"/><polyline vector-effect="non-scaling-stroke" points="0,420 300,420"/></g>
</g>
<g fill="none" stroke="#e8e4f0" stroke-width="1.6" stroke-dasharray="9 6" opacity="0.85">
<g transform="translate(0,0) scale(0.39008)"><polyline vector-effect="non-scaling-stroke" points="770,425 1130,425"/><polyline vector-effect="non-scaling-stroke" points="1000,790 1420,790"/><polyline vector-effect="non-scaling-stroke" points="1480,540 1460,620 1480,700 1440,740 1420,800 1450,860 1380,880 1400,930 1340,960 1280,1000 1260,1060 1290,1080 1250,1120 1200,1170 1150,1200 1130,1240 1160,1260 1150,1300 1160,1374"/></g>
<g transform="translate(581,0) scale(0.39008)"><polyline vector-effect="non-scaling-stroke" points="300,420 910,420"/><polyline vector-effect="non-scaling-stroke" points="910,290 1040,295 1040,320 1492,310"/><polyline vector-effect="non-scaling-stroke" points="0,380 30,420 40,460 20,500 40,540 10,580 30,620"/><polyline vector-effect="non-scaling-stroke" points="120,330 140,360 180,380 210,370"/><polyline vector-effect="non-scaling-stroke" points="60,380 70,420 50,450"/></g>
<g transform="translate(0,464) scale(0.39008)"><polyline vector-effect="non-scaling-stroke" points="1040,340 1492,338"/><polyline vector-effect="non-scaling-stroke" points="1100,300 1040,330 1080,370 1050,420 940,480 935,520 880,545 870,600 860,660 880,700 860,760 800,800 750,800 755,850 720,880 660,940 630,970 640,990 680,1010 670,1040 620,1050 560,1070 540,1100 570,1130 560,1180 520,1210 540,1230 500,1270 470,1300 480,1340 500,1374"/></g>
<g transform="translate(581,464) scale(0.39008)"><polyline vector-effect="non-scaling-stroke" points="0,340 860,330 880,370 910,400"/></g>
</g></g>
<g><text x="81.8" y="8.7" font-size="23" class="lp">0%</text><text x="81.8" y="29.0" font-size="14.5" class="ln">Mountain View</text><text x="47.1" y="84.7" font-size="23" class="lp">0%</text><text x="47.1" y="103.5" font-size="14.5" class="ln">West Plains</text><text x="113.7" y="141.2" font-size="23" class="lp">0%</text><text x="113.7" y="160.8" font-size="14.5" class="ln">Thayer</text><text x="237.5" y="215.8" font-size="23" class="lp">4%</text><text x="237.5" y="235.3" font-size="14.5" class="ln">Pocahontas</text><text x="369.3" y="79.7" font-size="23" class="lp">1%</text><text x="369.3" y="99.2" font-size="14.5" class="ln">Poplar Bluff</text><text x="821.9" y="52.9" font-size="23" class="lp">0%</text><text x="821.9" y="71.0" font-size="14.5" class="ln">Benton</text><text x="830.6" y="119.5" font-size="23" class="lp">8%</text><text x="830.6" y="139.0" font-size="14.5" class="ln">Murray</text><text x="1042.7" y="136.1" font-size="27" class="lp">6%</text><text x="1042.7" y="157.1" font-size="17" class="ln">Clarksville</text><text x="713.3" y="194.1" font-size="23" class="lp">7%</text><text x="713.3" y="212.9" font-size="14.5" class="ln">Martin</text><text x="787.8" y="252.7" font-size="23" class="lp">11%</text><text x="787.8" y="271.5" font-size="14.5" class="ln">McKenzie</text><text x="593.8" y="281.0" font-size="23" class="lp">12%</text><text x="593.8" y="300.5" font-size="14.5" class="ln">Dyersburg</text><text x="342.5" y="273.7" font-size="23" class="lp">8%</text><text x="342.5" y="292.5" font-size="14.5" class="ln">Paragould</text><text x="296.9" y="330.9" font-size="23" class="lp">7%</text><text x="296.9" y="351.2" font-size="14.5" class="ln">Jonesboro</text><text x="165.1" y="396.8" font-size="23" class="lp">13%</text><text x="165.1" y="416.4" font-size="14.5" class="ln">Newport</text><text x="724.1" y="395.4" font-size="23" class="lp">19%</text><text x="724.1" y="415.6" font-size="14.5" class="ln">Jackson</text><text x="1122.4" y="391.0" font-size="23" class="lp">23%</text><text x="1122.4" y="410.6" font-size="14.5" class="ln">Columbia</text><text x="1171.6" y="233.2" font-size="23" class="lp">15%</text><text x="1171.6" y="254.9" font-size="14.5" class="ln">Nashville</text><text x="504.7" y="446.1" font-size="23" class="lp">16%</text><text x="504.7" y="464.9" font-size="14.5" class="ln">Atoka</text><text x="61.5" y="493.1" font-size="23" class="lp">16%</text><text x="61.5" y="512.7" font-size="14.5" class="ln">Searcy</text><text x="275.2" y="504.7" font-size="23" class="lp">20%</text><text x="275.2" y="523.5" font-size="14.5" class="ln">Wynne</text><text x="441.7" y="523.5" font-size="27" class="lp">27%</text><text x="441.7" y="545.3" font-size="17" class="ln">Memphis</text><text x="684.3" y="496.7" font-size="23" class="lp">23%</text><text x="684.3" y="515.6" font-size="14.5" class="ln">Bolivar</text><text x="1058.7" y="496.0" font-size="23" class="lp">28%</text><text x="1058.7" y="515.6" font-size="14.5" class="ln">Lawrenceburg</text><text x="181.0" y="597.4" font-size="23" class="lp">21%</text><text x="181.0" y="616.2" font-size="14.5" class="ln">Brinkley</text><text x="454.7" y="618.4" font-size="23" class="lp">29%</text><text x="454.7" y="637.2" font-size="14.5" class="ln">Hernando</text><text x="790.7" y="585.8" font-size="23" class="lp">33%</text><text x="790.7" y="605.4" font-size="14.5" class="ln">Corinth</text><text x="983.3" y="620.6" font-size="23" class="lp">39%</text><text x="983.3" y="640.1" font-size="14.5" class="ln">Florence</text><text x="97.8" y="702.4" font-size="23" class="lp">37%</text><text x="97.8" y="721.9" font-size="14.5" class="ln">Stuttgart</text><text x="972.5" y="701.7" font-size="23" class="lp">43%</text><text x="972.5" y="721.2" font-size="14.5" class="ln">Russellville</text><text x="562.6" y="745.8" font-size="23" class="lp">41%</text><text x="562.6" y="764.7" font-size="14.5" class="ln">Oxford</text><text x="751.6" y="772.6" font-size="23" class="lp">48%</text><text x="751.6" y="792.9" font-size="14.5" class="ln">Tupelo</text><text x="321.5" y="790.0" font-size="23" class="lp">53%</text><text x="321.5" y="809.6" font-size="14.5" class="ln">Clarksdale</text><text x="-10.1" y="774.8" font-size="23" class="lp">46%</text><text x="-10.1" y="794.4" font-size="14.5" class="ln">Pine Bluff</text><text x="108.6" y="873.3" font-size="23" class="lp">45%</text><text x="108.6" y="892.1" font-size="14.5" class="ln">Dumas</text><text x="800.1" y="849.4" font-size="23" class="lp">53%</text><text x="800.1" y="868.9" font-size="14.5" class="ln">Amory</text><text x="1078.9" y="886.3" font-size="23" class="lp">27%</text><text x="1078.9" y="905.9" font-size="14.5" class="ln">Jasper</text><text x="284.6" y="916.0" font-size="23" class="lp">61%</text><text x="284.6" y="934.8" font-size="14.5" class="ln">Cleveland</text><text x="496.0" y="912.4" font-size="23" class="lp">48%</text><text x="496.0" y="930.5" font-size="14.5" class="ln">Grenada</text><text x="39.8" y="942.8" font-size="23" class="lp">62%</text><text x="39.8" y="961.6" font-size="14.5" class="ln">Monticello</text><text x="514.1" y="992.0" font-size="23" class="lp">52%</text><text x="726.3" y="997.1" font-size="23" class="lp">54%</text><text x="210.0" y="1001.4" font-size="23" class="lp">64%</text><text x="1171.6" y="990.6" font-size="14.5" class="ln">Birmingham</text></g>
<ellipse cx="554" cy="700.3" rx="418.5" ry="171.8" transform="rotate(-24.85 554 700.3)" fill="none" stroke="#ffff00" stroke-width="10.5"/>
<text x="242.6" y="26.7" font-size="25" class="tt" textLength="630" lengthAdjust="spacingAndGlyphs">Probability of 48 Hour Freezing Rain &gt;0.5 (shaded)</text>
<text x="764" y="6" font-size="14.5" class="ln">Paducah</text>
<rect x="570.5" y="284.6" width="548.7" height="38.8" fill="#000"/>
<rect x="583.4" y="323.4" width="524.1" height="39.9" fill="#000"/>
<rect x="820.7" y="363.3" width="49.3" height="38.8" fill="#000"/>
<text x="845" y="315.1" class="ut" textLength="545" lengthAdjust="spacingAndGlyphs">Uncertainty still remains regarding</text>
<text x="845" y="355.1" class="ut" textLength="519.5" lengthAdjust="spacingAndGlyphs">whether primarily ice or sleet will</text>
<text x="845" y="395" class="ut" textLength="46" lengthAdjust="spacingAndGlyphs">fall</text>
</svg>
<!--/MAPR-->
<div class="abs" style="left:845px;top:1368px;width:756px;height:6px;background:#000;"></div>
<div class="abs" id="botbar" style="left:849px;top:1361px;width:748px;height:7px;background:#34321f;border-radius:24px 24px 0 0/7px 7px 0 0;"></div>
<div class="abs" style="left:1259px;top:1361px;width:2px;height:13px;background:#6a6840;"></div>
<div class="abs" style="left:2423px;top:18px;width:38px;height:1350px;background:linear-gradient(90deg,rgba(0,0,0,0.28),rgba(0,0,0,0));"></div>
<div class="abs" style="left:2424px;top:118px;font:bold 40px 'Liberation Sans',sans-serif;color:#151500;letter-spacing:-1px;">av</div>
<!--LOGOS-->
<svg class="abs" style="left:0;top:0" width="260" height="210" viewBox="0 0 260 210">
<defs><clipPath id="ic"><ellipse cx="137" cy="107.5" rx="54" ry="55.5"/></clipPath></defs>
<circle cx="136" cy="107" r="89.6" fill="#fff" stroke="#c8c8d8" stroke-width="0.8"/>
<ellipse cx="137" cy="107.5" rx="54" ry="55.5" fill="#2eaaf5"/>
<path d="M80,120 L195,120 L195,141 L190,142 L170,147 L156,146 L149.7,143.3 L140,147.7 L128,146.5 L121.6,143.3 L115,147.5 L100,146 L80,140 Z" fill="#fff" clip-path="url(#ic)"/>
<g stroke="#0a0a96" stroke-width="2.2"><line x1="135.6" y1="52.8" x2="135.6" y2="74.8"/><line x1="162.5" y1="60.4" x2="154.9" y2="74.8"/><line x1="182.9" y1="80.4" x2="173.3" y2="86"/><line x1="88" y1="80" x2="99.6" y2="86.8"/><line x1="97" y1="66" x2="109" y2="76"/></g>
<ellipse cx="137" cy="107.5" rx="54" ry="55.5" fill="none" stroke="#0a0a96" stroke-width="2"/>
<path d="M76,94 L82,88 L92,87.5 L100,88.5 L102.4,87.6 L108,82 L113.6,76.4 L121.6,73.2 L129.6,73.2 L136,75.6 L144,74.8 L152,75.6 L160,78.8 L168,82 L174.5,86.8 L177.7,91.6 L182.5,92.4 L188,93.2 L196,94.8 L200,99.6 L198.5,106 L195.3,111.6 L192,115.6 L184,118 L177.7,119.6 L178.5,124.5 L176,129.3 L168,131.7 L160,130.9 L152,134.9 L140,138.9 L132,138.9 L124,136.5 L117.6,132.5 L112,131.7 L104,131.7 L96,129.3 L93.6,125.3 L88,126 L82,126.9 L76,124 L73,118 L72.5,110 L73,100 Z" fill="#0202a4"/>
<polygon points="89.2,59.6 107.6,59.6 128.0,82.4 123.6,82.8 144.9,106.0 140.4,106.4 160.9,129.3 156.9,129.7 180.1,153.3 144.1,130.9 152.9,125.3 127.2,107.2 136.8,102.4 111.2,84.4 119.2,79.6" fill="#fff" stroke="#0a0a96" stroke-width="1.6" stroke-linejoin="miter"/>
<g font-family="Liberation Sans" font-weight="bold" font-size="22" fill="#ff1010" stroke="#ff1010" stroke-width="0.9" text-anchor="middle"><text transform="rotate(213.3 136 107) translate(136 37.5) scale(0.74 1)" >N</text><text transform="rotate(227.6 136 107) translate(136 37.5) scale(0.74 1)" >A</text><text transform="rotate(240.0 136 107) translate(136 37.5) scale(0.74 1)" >T</text><text transform="rotate(250.2 136 107) translate(136 37.5) scale(0.74 1)" >I</text><text transform="rotate(261.7 136 107) translate(136 37.5) scale(0.74 1)" >O</text><text transform="rotate(274.7 136 107) translate(136 37.5) scale(0.74 1)" >N</text><text transform="rotate(288.0 136 107) translate(136 37.5) scale(0.74 1)" >A</text><text transform="rotate(301.8 136 107) translate(136 37.5) scale(0.74 1)" >L</text><text transform="rotate(324.2 136 107) translate(136 37.5) scale(0.74 1)" >W</text><text transform="rotate(340.1 136 107) translate(136 37.5) scale(0.74 1)" >E</text><text transform="rotate(352.9 136 107) translate(136 37.5) scale(0.74 1)" >A</text><text transform="rotate(365.1 136 107) translate(136 37.5) scale(0.74 1)" >T</text><text transform="rotate(380.5 136 107) translate(136 37.5) scale(0.74 1)" >H</text><text transform="rotate(394.7 136 107) translate(136 37.5) scale(0.74 1)" >E</text><text transform="rotate(407.4 136 107) translate(136 37.5) scale(0.74 1)" >R</text><text transform="rotate(432.1 136 107) translate(136 37.5) scale(0.74 1)" >S</text><text transform="rotate(445.3 136 107) translate(136 37.5) scale(0.74 1)" >E</text><text transform="rotate(457.3 136 107) translate(136 37.5) scale(0.74 1)" >R</text><text transform="rotate(469.3 136 107) translate(136 37.5) scale(0.74 1)" >V</text><text transform="rotate(480.7 136 107) translate(136 37.5) scale(0.74 1)" >I</text><text transform="rotate(491.7 136 107) translate(136 37.5) scale(0.74 1)" >C</text><text transform="rotate(506.9 136 107) translate(136 37.5) scale(0.74 1)" >E</text></g>
<polygon fill="#1a22ee" points="114.40,177.30 115.68,180.73 119.35,180.89 116.48,183.17 117.46,186.71 114.40,184.68 111.34,186.71 112.32,183.17 109.45,180.89 113.12,180.73"/><polygon fill="#ff1010" points="136.10,177.40 138.03,182.55 143.52,182.79 139.22,186.21 140.68,191.51 136.10,188.48 131.52,191.51 132.98,186.21 128.68,182.79 134.17,182.55"/><polygon fill="#1a22ee" points="158.40,177.30 159.68,180.73 163.35,180.89 160.48,183.17 161.46,186.71 158.40,184.68 155.34,186.71 156.32,183.17 153.45,180.89 157.12,180.73"/>
</svg>
<svg class="abs" style="left:0;top:1250px" width="140" height="124" viewBox="0 1250 140 124">
<defs><clipPath id="nc"><circle cx="74.05" cy="1314.2" r="48"/></clipPath></defs>
<circle cx="74.05" cy="1314.2" r="48" fill="#0a86ee"/>
<g clip-path="url(#nc)">
<path d="M20,1250 L130,1250 L130,1284.4 L112,1284.4 L104.9,1291.4 L98.6,1300.9 L92.3,1311.1 L84.5,1319.7 L76.6,1322.9 L68.7,1322.1 L60.9,1317.4 L53,1308.7 L43.6,1297.7 L34.2,1286.7 L20,1286.7 Z" fill="#0c2c8e"/>
<path d="M20,1286.7 L34.2,1286.7 L43.6,1297.7 L53,1308.7 L60.9,1317.4 L68.7,1322.1 L76.6,1322.9 L84.5,1319.7 L92.3,1311.1 L98.6,1300.9 L104.9,1291.4 L112,1284.4 L130,1284.4 L130,1290 L117.5,1293 L110.4,1299.3 L102.5,1308 L95.5,1315 L87.6,1322.9 L96.3,1324.1 L95.5,1325.3 L82.9,1329.2 L73.5,1333.9 L64,1335.9 L59.3,1334.7 L60.9,1333.1 L71.1,1327.6 L64,1326 L55.4,1321.3 L45.9,1314.2 L35.7,1307.2 L27.1,1302.5 L20,1300 Z" fill="#fff"/>
</g>
<text x="53" y="1298" font-family="Liberation Sans" font-weight="bold" font-size="17" fill="#fff" textLength="40" lengthAdjust="spacingAndGlyphs">NOAA</text>
</svg>
<!--/LOGOS-->
</body></html>
